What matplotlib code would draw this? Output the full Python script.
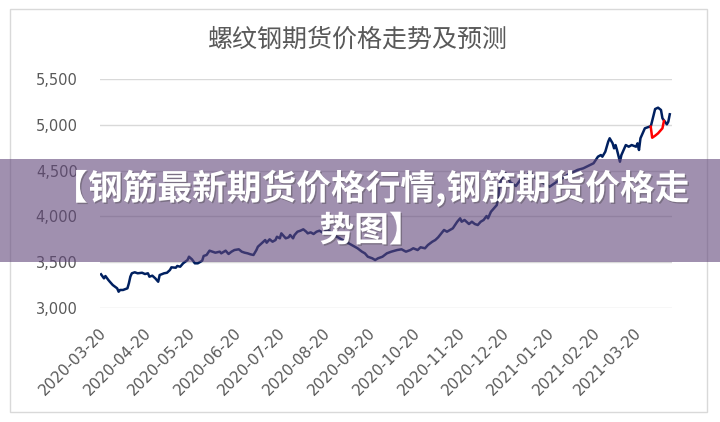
import pandas as pd
import matplotlib.pyplot as plt
import matplotlib.patheffects as pe
from matplotlib.patches import Rectangle
from matplotlib.ticker import FuncFormatter
from matplotlib.transforms import ScaledTranslation

plt.rcParams['font.family'] = ['Noto Sans CJK SC', 'DejaVu Sans']

# Data: days since start date and price
start_date = '2020-03-17'
day_offset = [0, 2, 3, 5, 6, 8, 11, 12, 13, 15, 18, 19, 20, 21, 23, 25, 28, 30, 32, 33,
              35, 37, 39, 40, 43, 45, 47, 48, 51, 52, 54, 56, 59, 60, 62, 64, 66, 69, 70, 72,
              74, 76, 78, 81, 82, 85, 87, 89, 91, 94, 96, 98,
              100, 102, 104, 106, 107, 110, 112, 113, 115, 117, 119, 120, 122, 123, 124, 126,
              128, 129, 131, 132, 134, 136, 138, 140, 141, 143, 145, 147, 149, 152, 154, 160,
              165, 171, 175, 178, 180, 182, 185, 187, 189, 192, 195, 198, 202, 205, 208, 211,
              213, 216, 218, 221, 223, 226, 228, 230, 233, 234, 236, 238, 240, 243, 245, 246,
              248, 251, 253, 255, 257, 259, 261, 263, 264, 266, 268, 270, 271, 272, 274, 276,
              279, 283, 286, 289, 293, 294, 298, 304, 306, 311, 318, 325, 329, 336, 339, 341,
              342, 344, 346, 347, 349, 350, 351, 352, 354, 355, 357, 358, 360, 362, 365, 366,
              367, 368, 370, 371, 374, 375, 377, 378, 380, 382, 383, 386, 387, 388]
price = [3368, 3324, 3349, 3306, 3287, 3251, 3215, 3178, 3197, 3197, 3215, 3270, 3342, 3379, 3390, 3379, 3385, 3371, 3379, 3342,
         3353, 3324, 3287, 3360, 3379, 3385, 3415, 3444, 3440, 3459, 3451, 3488, 3524, 3560, 3532, 3488, 3488, 3516, 3568, 3579,
         3626, 3615, 3604, 3615, 3597, 3626, 3590, 3615, 3633, 3641, 3615, 3604,
         3597, 3586, 3579, 3633, 3669, 3713, 3742, 3713, 3750, 3724, 3742, 3778, 3761, 3815, 3797, 3761,
         3772, 3797, 3761, 3797, 3833, 3844, 3859, 3833, 3815, 3826, 3808, 3833, 3844, 3815, 3862, 3786,
         3742, 3688, 3652, 3615, 3597, 3560, 3543, 3524, 3543, 3560, 3597, 3615, 3633, 3641, 3615, 3633,
         3652, 3633, 3663, 3652, 3688, 3724, 3742, 3772, 3833, 3852, 3833, 3852, 3870, 3942, 3979, 3942,
         3961, 3917, 3942, 3917, 3906, 3942, 3961, 4004, 3979, 4051, 4088, 4124, 4215, 4361, 4433, 4471,
         4376, 4332, 4397, 4419, 4488, 4452, 4397, 4343, 4324, 4379, 4452, 4507, 4525, 4580, 4652, 4670,
         4652, 4706, 4816, 4853, 4798, 4743, 4779, 4725, 4597, 4670, 4743, 4779, 4761, 4779, 4761, 4798,
         4725, 4853, 4925, 4962, 4979, 4979, 5107, 5172, 5187, 5162, 5071, 5005, 5034, 5115]

# Forecast segment (red)
fc_offset = [375, 376, 378, 380, 383, 384]
fc_price = [4979, 4859, 4881, 4907, 4962, 5041]

tick_dates = ['2020-03-20', '2020-04-20', '2020-05-20', '2020-06-20', '2020-07-20',
              '2020-08-20', '2020-09-20', '2020-10-20', '2020-11-20', '2020-12-20',
              '2021-01-20', '2021-02-20', '2021-03-20']
y_ticks = [3000, 3500, 4000, 4500, 5000, 5500]

title = '螺纹钢期货价格走势及预测'
banner = '【钢筋最新期货价格行情,钢筋期货价格走\n势图】'

t0 = pd.Timestamp(start_date)
dates = t0 + pd.to_timedelta(day_offset, unit='D')
fc_dates = t0 + pd.to_timedelta(fc_offset, unit='D')
ticks = pd.to_datetime(tick_dates)

fig = plt.figure(figsize=(7.2, 4.22), dpi=100)
ax = fig.add_axes([0.1389, 0.2701, 0.7944, 0.5427])

ax.plot(dates, price, color='#002060', lw=1.8, zorder=3)
ax.plot(fc_dates, fc_price, color='#FF0000', lw=1.8, zorder=3)

ax.set_ylim(3000, 5500)
ax.set_yticks(y_ticks)
ax.yaxis.set_major_formatter(FuncFormatter(lambda v, p: f'{int(v):,}'))
ax.set_xlim(t0 - pd.Timedelta(days=0.7), t0 + pd.Timedelta(days=389.5))
ax.set_xticks(ticks)
ax.set_xticklabels(tick_dates, rotation=45, ha='right', rotation_mode='anchor')

ax.grid(axis='y', color='#D9D9D9', lw=1)
ax.set_axisbelow(True)
for s in ax.spines.values():
    s.set_visible(False)
ax.tick_params(length=0, colors='#595959', labelsize=10.5)
ax.tick_params(axis='y', pad=16)
ax.tick_params(axis='x', pad=6, labelsize=11)
shift = ScaledTranslation(-0.07, -0.09, fig.dpi_scale_trans)
for lab in ax.get_xticklabels():
    lab.set_family(['DejaVu Sans'])
    lab.set_transform(lab.get_transform() + shift)
for lab in ax.get_yticklabels():
    lab.set_family(['DejaVu Sans'])

fig.text(0.497, 0.905, title, ha='center', va='center', fontsize=18, color='#595959',
         fontweight='light')

# chart border
fig.patches.append(Rectangle((10 / 720, 1 - 412 / 422), 697 / 720, 403 / 422,
                             transform=fig.transFigure, fill=False,
                             edgecolor='#D9D9D9', lw=1, zorder=1))

# overlay banner
fig.patches.append(Rectangle((0, 1 - 262 / 422), 1, 103 / 422, transform=fig.transFigure,
                             facecolor='#61467A', alpha=0.6, edgecolor='none', zorder=5))
fig.text(0.516, 0.505, banner, ha='center', va='center', fontsize=25, fontweight='heavy',
         color='white', linespacing=1.22, zorder=6,
         path_effects=[pe.withSimplePatchShadow(offset=(1, -1), shadow_rgbFace='#333333', alpha=0.35)])

fig.savefig('out.png', dpi=100)
